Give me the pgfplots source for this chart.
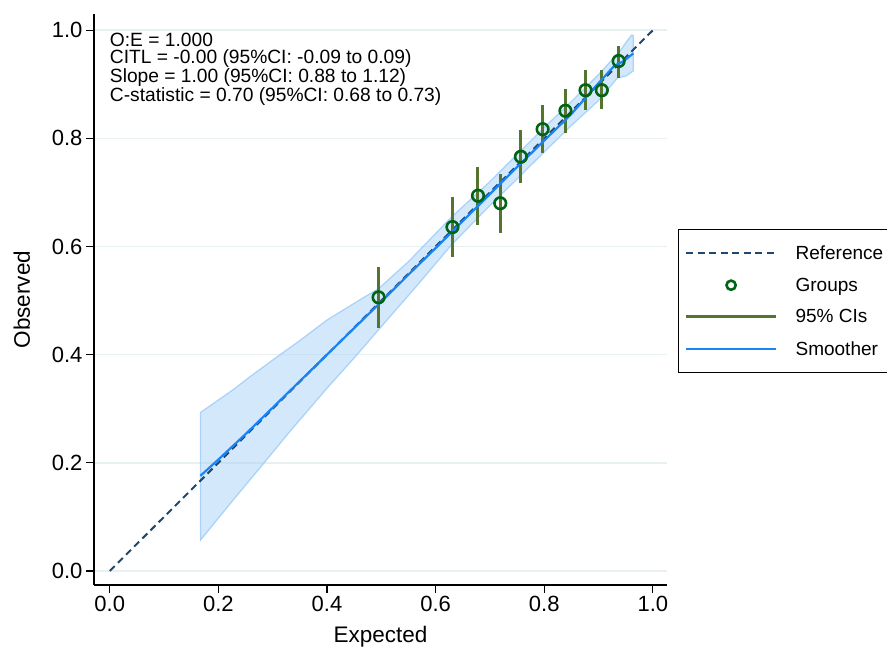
\documentclass[border=0pt]{standalone}
\usepackage{fontspec}
\setmainfont{Liberation Sans}
\usepackage{pgfplots}
\pgfplotsset{compat=1.18}

\definecolor{refc}{RGB}{30,72,112}
\definecolor{grpc}{RGB}{0,100,20}
\definecolor{cic}{RGB}{85,117,47}
\definecolor{smc}{RGB}{24,132,246}
\definecolor{bandc}{RGB}{160,205,248}
\definecolor{gridc}{RGB}{232,240,242}

\begin{document}
\begin{tikzpicture}
  \begin{axis}[
    scale only axis,
    width=573pt, height=571pt,
    xmin=-0.029, xmax=1.026,
    ymin=-0.026, ymax=1.030,
    axis x line*=bottom, axis y line*=left,
    axis line style={-, line width=1.2pt, black},
    xtick={0,0.2,0.4,0.6,0.8,1},
    ytick={0,0.2,0.4,0.6,0.8,1},
    tick align=outside, tick pos=left,
    major tick length=8pt,
    tick style={line width=1.2pt, black},
    /pgf/number format/.cd, fixed, fixed zerofill, precision=1, assume math mode=true,
    /pgfplots/.cd,
    tick label style={font=\fontsize{22}{24}\selectfont},
    ymajorgrids=true,
    major grid style={line width=1.6pt, draw=gridc},
    xlabel={Expected}, ylabel={Observed},
    label style={font=\fontsize{22.5}{24}\selectfont},
    xlabel style={at={(axis description cs:0.5,-0.091)}, anchor=center},
    ylabel style={at={(axis description cs:-0.126,0.5)}, anchor=center},
    legend style={at={(1.0192,0.6235)}, anchor=north west,
      draw=black, line width=1.2pt, fill=white,
      font=\fontsize{19}{21}\selectfont,
      row sep=13pt, inner xsep=6pt, inner ysep=14pt,
      /tikz/every odd column/.append style={column sep=16pt}},
    legend cell align={left},
    legend image code/.code={
      \draw[mark repeat=2,mark phase=2,#1]
        plot coordinates {(0pt,0pt) (45pt,0pt) (90pt,0pt)};},
  ]
    % confidence band of the smoother
    \addplot[forget plot, fill=bandc, fill opacity=0.45,
      draw=bandc, draw opacity=0.85, line width=1.3pt] coordinates {
      (0.167,0.293) (0.200,0.316) (0.227,0.335) (0.258,0.359) (0.300,0.390)
      (0.350,0.426) (0.400,0.464) (0.460,0.501) (0.495,0.522) (0.550,0.572)
      (0.600,0.624) (0.630,0.655) (0.700,0.720) (0.750,0.770) (0.800,0.820)
      (0.850,0.868) (0.900,0.918) (0.920,0.940) (0.940,0.962) (0.951,0.978)
      (0.961,0.991) (0.964,0.990)
      (0.964,0.925) (0.950,0.915) (0.935,0.912) (0.900,0.870) (0.850,0.824)
      (0.800,0.775) (0.750,0.725) (0.700,0.676) (0.630,0.604) (0.565,0.527)
      (0.500,0.452) (0.450,0.394) (0.400,0.338) (0.330,0.256) (0.276,0.190)
      (0.227,0.131) (0.167,0.057)
    } -- cycle;

    \addplot[refc, line width=2pt, dash pattern=on 7pt off 4.5pt]
      coordinates {(0,0) (1,1)};
    \addlegendentry{Reference}

    \addplot[only marks, mark=o, mark size=5.8pt,
      mark options={draw=grpc, line width=2.6pt},
      legend image post style={mark size=4.6pt}] coordinates {
      (0.495,0.506) (0.631,0.636) (0.678,0.694) (0.719,0.680) (0.757,0.766)
      (0.797,0.817) (0.839,0.851) (0.876,0.889) (0.906,0.889) (0.937,0.943)
    };
    \addlegendentry{Groups}

    \addplot[cic, line width=3pt, unbounded coords=jump] coordinates {
      (0.495,0.449) (0.495,0.562) (0.495,nan)
      (0.631,0.581) (0.631,0.692) (0.631,nan)
      (0.678,0.640) (0.678,0.747) (0.678,nan)
      (0.719,0.625) (0.719,0.734) (0.719,nan)
      (0.757,0.718) (0.757,0.815) (0.757,nan)
      (0.797,0.773) (0.797,0.861) (0.797,nan)
      (0.839,0.810) (0.839,0.892) (0.839,nan)
      (0.876,0.852) (0.876,0.926) (0.876,nan)
      (0.906,0.854) (0.906,0.927) (0.906,nan)
      (0.937,0.912) (0.937,0.970)
    };
    \addlegendentry{95\% CIs}

    \addplot[smc, line width=2.2pt] coordinates {
      (0.167,0.176) (0.200,0.206) (0.250,0.253) (0.300,0.302) (0.350,0.351)
      (0.400,0.400) (0.450,0.449) (0.500,0.498) (0.550,0.548) (0.600,0.597)
      (0.650,0.647) (0.700,0.697) (0.750,0.747) (0.800,0.796) (0.850,0.845)
      (0.890,0.891) (0.927,0.932) (0.936,0.938) (0.945,0.942) (0.955,0.950)
      (0.964,0.957)
    };
    \addlegendentry{Smoother}

    \node[anchor=north west, inner sep=0pt, align=left,
      font=\fontsize{19.2}{17.2}\selectfont] at (axis cs:0,0.9945)
      {O:E = 1.000\\
       CITL = -0.00 (95\%CI: -0.09 to 0.09)\\
       Slope = 1.00 (95\%CI: 0.88 to 1.12)\\
       C-statistic = 0.70 (95\%CI: 0.68 to 0.73)};

    \coordinate (SW) at (rel axis cs:0,0);
    \coordinate (NE) at (rel axis cs:1,1);
  \end{axis}
  \pgfresetboundingbox
  \useasboundingbox ([xshift=-94pt,yshift=-63pt]SW) rectangle ([xshift=220pt,yshift=14pt]NE);
\end{tikzpicture}
\end{document}
